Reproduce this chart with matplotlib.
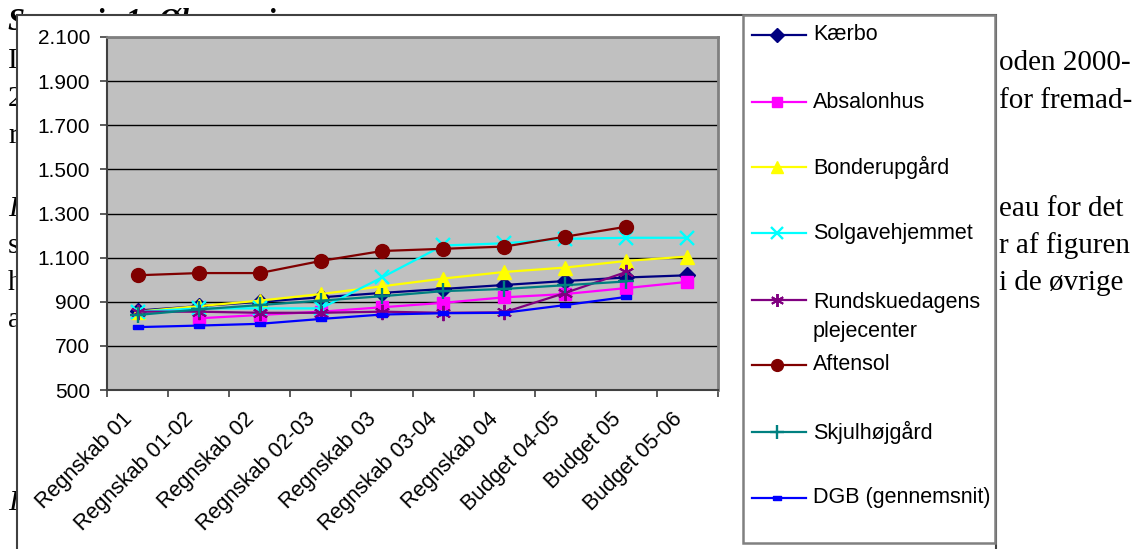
import numpy as np
import matplotlib
matplotlib.use('Agg')
import matplotlib.pyplot as plt
from matplotlib.lines import Line2D
from matplotlib.patches import Rectangle
from matplotlib.ticker import FuncFormatter
from matplotlib.transforms import ScaledTranslation

# data (kr. per day, roughly)
categories = ['Regnskab 01', 'Regnskab 01-02', 'Regnskab 02', 'Regnskab 02-03', 'Regnskab 03',
              'Regnskab 03-04', 'Regnskab 04', 'Budget 04-05', 'Budget 05', 'Budget 05-06']
nan = np.nan
kaerbo = [860, 880, 900, 920, 940, 958, 976, 994, 1010, 1020]
absalonhus = [nan, 825, 840, 855, 875, 895, 920, 935, 962, 990]
bonderupgaard = [855, 880, 905, 935, 970, 1005, 1035, 1055, 1085, 1105]
solgavehjemmet = [855, 870, 870, 870, 1010, 1155, 1165, 1185, 1190, 1190]
rundskuedagens = [855, 855, 850, 850, 855, 850, 852, 940, 1035, nan]
aftensol = [1020, 1030, 1030, 1085, 1130, 1140, 1150, 1195, 1240, nan]
skjulhoejgaard = [840, 865, 885, 905, 925, 948, 958, 975, 992, nan]
dgb = [785, 792, 800, 822, 842, 848, 850, 885, 922, nan]

labels = ['Kærbo', 'Absalonhus', 'Bonderupgård', 'Solgavehjemmet',
          'Rundskuedagens\nplejecenter', 'Aftensol', 'Skjulhøjgård', 'DGB (gennemsnit)']
series = [kaerbo, absalonhus, bonderupgaard, solgavehjemmet,
          rundskuedagens, aftensol, skjulhoejgaard, dgb]

rect_marker = [(-1, -0.55), (1, -0.55), (1, 0.55), (-1, 0.55), (-1, -0.55)]
styles = [
    dict(color='#000080', marker='D', ms=8),
    dict(color='#FF00FF', marker='s', ms=9),
    dict(color='#FFFF00', marker='^', ms=10.5),
    dict(color='#00FFFF', marker='x', ms=10, mew=1.7),
    dict(color='#800080', marker=(6, 2, 0), ms=11, mew=1.4),
    dict(color='#800000', marker='o', ms=10),
    dict(color='#008080', marker='+', ms=12, mew=1.7),
    dict(color='#0000FF', marker=rect_marker, ms=6.5),
]

W, H = 1145, 549
def fx(px):
    return px / W
def fy(py):
    return 1 - py / H

fig = plt.figure(figsize=(W / 100, H / 100), dpi=100)
fig.patch.set_facecolor('white')

# page text behind the pasted chart (only the bits that peek out)
serif = 'Liberation Serif'
body = 21
fig.text(fx(8), fy(29), 'Scenarie 1: Økonomi', fontsize=22, family=serif,
         weight='bold', style='italic', va='baseline', zorder=-3)
left_lines = [(68, 'I', 'normal'), (106, '20', 'normal'), (143, 'ræ', 'normal'),
              (216, 'I', 'italic'), (253, 'sa', 'normal'), (290, 'hv', 'normal'),
              (327, 'af', 'normal'), (510, 'I', 'italic')]
for b, s, st in left_lines:
    fig.text(fx(8), fy(b), s, fontsize=body, family=serif, style=st,
             va='baseline', zorder=-3)
right_lines = [(70, 'oden 2000-'), (108, 'for fremad-'),
               (216, 'eau for det'), (253, 'r af figuren'),
               (290, 'i de øvrige')]
for b, s in right_lines:
    fig.text(fx(999), fy(b), s, fontsize=body, family=serif, ha='left',
             va='baseline', zorder=-3)

# chart frame and legend box
fig.add_artist(Rectangle((fx(17), fy(570)), fx(996) - fx(17), fy(15) - fy(570),
                         transform=fig.transFigure, facecolor='white',
                         edgecolor='#404040', lw=1.5, zorder=-1))
fig.add_artist(Rectangle((fx(743), fy(543)), fx(995) - fx(743), fy(15) - fy(543),
                         transform=fig.transFigure, facecolor='white',
                         edgecolor='#808080', lw=1.8, zorder=1))

ax = fig.add_axes([fx(107), fy(390), fx(718) - fx(107), fy(37) - fy(390)])
ax.set_facecolor('#C0C0C0')
x = np.arange(len(categories))
for vals, st in zip(series, styles):
    ax.plot(x, vals, lw=1.6, mec=st['color'], mfc=st['color'], **st)

ax.set_xlim(-0.5, len(categories) - 0.5)
ax.set_ylim(500, 2100)
ax.set_yticks(np.arange(500, 2101, 200))
ax.yaxis.set_major_formatter(FuncFormatter(lambda v, p: f'{int(v):,}'.replace(',', '.')))
ax.grid(axis='y', color='black', lw=1)
ax.set_axisbelow(True)

ax.set_xticks(x)
ax.set_xticks(np.arange(-0.5, len(categories)), minor=True)
ax.set_xticklabels(categories, rotation=45, ha='right', va='top',
                   rotation_mode='anchor', family='Liberation Sans', fontsize=15.5)
ax.tick_params(axis='x', which='major', length=0, pad=9)
ax.tick_params(axis='x', which='minor', length=5, width=1.2, color='#404040')
ax.tick_params(axis='y', length=5, width=1.2, color='#404040', pad=7)
shift = ScaledTranslation(-0.16, -0.06, fig.dpi_scale_trans)
for t in ax.get_xticklabels():
    t.set_transform(t.get_transform() + shift)
for t in ax.get_yticklabels():
    t.set_family('Liberation Sans')
    t.set_fontsize(15)

for side in ['left', 'bottom']:
    ax.spines[side].set_color('#404040')
    ax.spines[side].set_linewidth(1.5)
for side in ['top', 'right']:
    ax.spines[side].set_color('#808080')
    ax.spines[side].set_linewidth(2)

# legend, drawn by hand like the Excel one
legend_y = [35, 102, 167, 233, 300, 365, 432, 498]
for lab, st, yl in zip(labels, styles, legend_y):
    fig.add_artist(Line2D([fx(752), fx(806)], [fy(yl), fy(yl)], transform=fig.transFigure,
                          color=st['color'], lw=1.6, zorder=2))
    fig.add_artist(Line2D([fx(777)], [fy(yl)], transform=fig.transFigure, ls='none',
                          marker=st['marker'], ms=st['ms'] * 0.85, mew=st.get('mew', 1),
                          mfc=st['color'], mec=st['color'], zorder=2))
    if '\n' in lab:
        fig.text(fx(813), fy(yl - 8), lab, fontsize=15.5, family='Liberation Sans',
                 va='top', linespacing=1.5, zorder=3)
    else:
        fig.text(fx(813), fy(yl), lab, fontsize=15.5, family='Liberation Sans',
                 va='center', zorder=3)

plt.savefig('out.png', dpi=100)
